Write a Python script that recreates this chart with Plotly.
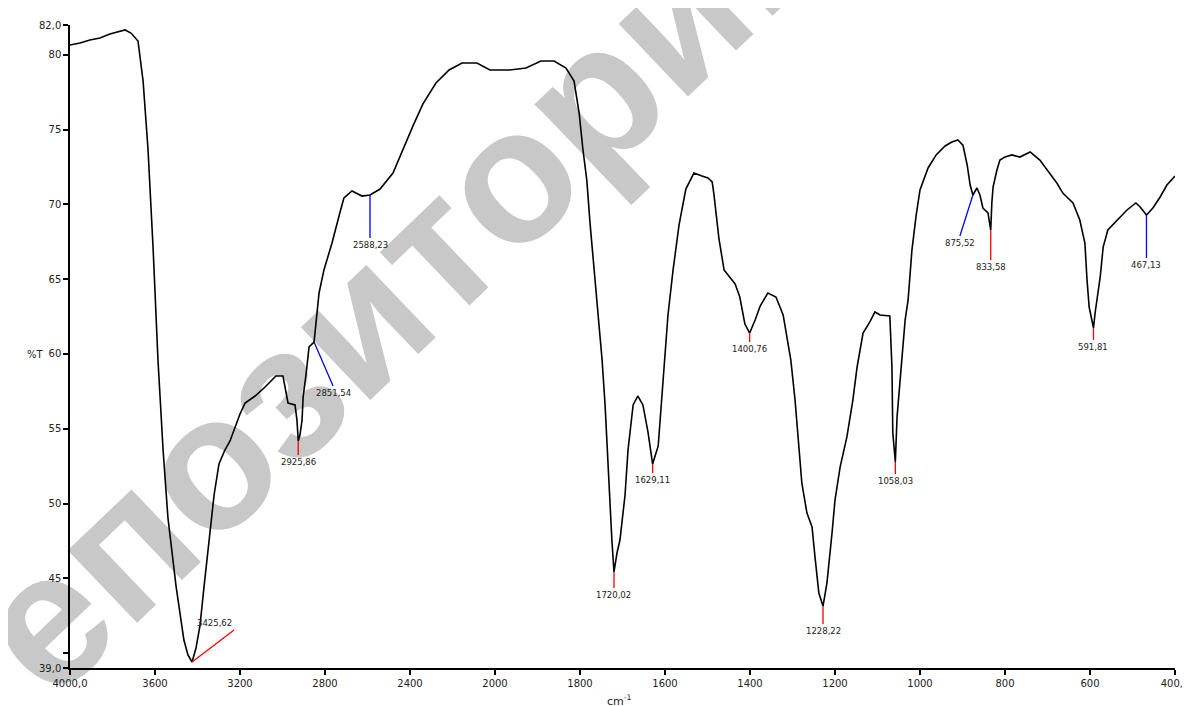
import plotly.graph_objects as go

# ---------------- data ----------------
wavenumber = [
    4000, 3953, 3906, 3859, 3812, 3765, 3741, 3713, 3694, 3680, 3656, 3633, 3609,
    3586, 3562, 3539, 3501, 3464, 3445, 3425.62, 3407, 3388, 3369, 3346, 3322,
    3299, 3271, 3247, 3200, 3176, 3129, 3082, 3031, 2998, 2974, 2941, 2932,
    2925.86, 2918, 2908, 2903, 2889, 2875, 2851.54, 2842, 2828, 2805, 2767, 2734,
    2711, 2673, 2649, 2626, 2588.23, 2541, 2480, 2433, 2386, 2339, 2278, 2216,
    2155, 2085, 2024, 2000,
    1965, 1927, 1892, 1861, 1833, 1814, 1802, 1793, 1784, 1776, 1767, 1758, 1748,
    1741, 1736, 1729, 1725, 1720.02, 1713, 1706, 1699, 1694, 1687, 1682, 1675,
    1664, 1652, 1640, 1629.11, 1616, 1605, 1593, 1581, 1567, 1551, 1532, 1513,
    1499, 1489, 1485, 1473, 1461, 1435, 1424, 1412, 1400.76, 1388, 1376, 1358,
    1339, 1322, 1304, 1294, 1287, 1278, 1266, 1254, 1247, 1238, 1228.22, 1219,
    1207, 1200, 1188, 1172, 1158, 1148, 1134, 1118, 1106, 1094, 1071, 1066, 1064,
    1058.03, 1054, 1047, 1042, 1035, 1028, 1019, 1009, 1000, 981, 962, 941, 925,
    911, 899, 889, 882, 875.52, 866, 859, 852, 840, 833.58, 831, 828, 819, 812,
    800, 784, 765, 741, 718, 701, 678, 664, 640, 624, 612, 607, 602, 591.81, 588,
    576, 569, 558, 536, 513, 492, 482, 467.13, 452, 435, 419, 400,
]
transmittance = [
    80.66, 80.80, 81.00, 81.13, 81.40, 81.60, 81.67, 81.46, 81.13, 80.93, 78.25,
    73.71, 67.09, 59.60, 53.58, 49.03, 44.48, 40.87, 39.87, 39.40, 40.34, 41.87,
    44.48, 47.49, 50.57, 52.64, 53.58, 54.18, 55.99, 56.72, 57.19, 57.79, 58.53,
    58.53, 56.72, 56.59, 55.58, 54.18, 54.58, 55.58, 57.12, 58.66, 60.47, 60.80,
    62.00, 64.08, 65.62, 67.42, 69.23, 70.43, 70.90, 70.70, 70.56, 70.63, 71.03,
    72.10, 73.71, 75.25, 76.72, 78.12, 78.99, 79.46, 79.46, 78.99, 78.99,
    78.99, 79.12, 79.59, 79.59, 79.12, 78.25, 76.11, 73.64, 71.63, 68.62, 65.62,
    62.61, 59.60, 56.59, 53.58, 50.23, 47.56, 45.42, 46.69, 47.56, 49.57, 50.57,
    53.58, 55.05, 56.59, 57.19, 56.59, 54.78, 52.64, 53.85, 58.06, 62.61, 65.62,
    68.62, 71.03, 72.10, 71.90, 71.77, 71.50, 70.70, 67.69, 65.62, 64.68, 63.81,
    62.00, 61.40, 62.27, 63.21, 64.08, 63.81, 62.61, 59.60, 56.92, 54.25, 51.37,
    49.36, 48.43, 46.42, 44.01, 43.14, 44.68, 48.03, 50.23, 52.44, 54.45, 56.92,
    59.13, 61.40, 62.14, 62.81, 62.61, 62.54, 59.13, 54.71, 52.78, 55.78, 58.26,
    59.60, 62.27, 63.61, 66.95, 69.29, 70.97, 72.44, 73.31, 73.91, 74.18, 74.31,
    73.97, 72.64, 71.30, 70.63, 71.10, 70.63, 69.76, 69.43, 68.29, 70.10, 71.17,
    72.30, 72.97, 73.17, 73.31, 73.17, 73.51, 72.97, 72.30, 71.43, 70.76, 70.10,
    68.96, 67.42, 64.95, 63.14, 61.74, 62.74, 65.15, 67.15, 68.29, 68.96, 69.63,
    70.10, 69.83, 69.29, 69.76, 70.50, 71.30, 71.90,
]

peak_wn = [3425.62, 2925.86, 2851.54, 2588.23, 1720.02, 1629.11, 1400.76,
           1228.22, 1058.03, 875.52, 833.58, 591.81, 467.13]
peak_t = [39.40, 54.18, 60.80, 70.63, 45.42, 52.64, 61.40,
          43.14, 52.78, 70.63, 68.29, 61.74, 69.29]
peak_kind = ["band", "band", "shoulder", "shoulder", "band", "band", "band",
             "band", "band", "shoulder", "band", "band", "shoulder"]

x_ticks_high = [4000, 3600, 3200, 2800, 2400, 2000]
x_ticks_low = [1800, 1600, 1400, 1200, 1000, 800, 600, 400]
y_ticks = [39, 40, 45, 50, 55, 60, 65, 70, 75, 80, 82]

# ---------------- styling ----------------
kind_color = {"band": "#ff0000", "shoulder": "#0000ff"}
# label offsets in pixels (ax, ay, xanchor, yanchor)
label_offsets = [
    (42, -32, "right", "bottom"),
    (0, 14, "center", "top"),
    (19, 44, "center", "top"),
    (0, 43, "center", "top"),
    (0, 16, "center", "top"),
    (0, 9, "center", "top"),
    (0, 9, "center", "top"),
    (0, 18, "center", "top"),
    (0, 12, "center", "top"),
    (-13, 41, "center", "top"),
    (0, 30, "center", "top"),
    (0, 12, "center", "top"),
    (0, 43, "center", "top"),
]
FONT = "DejaVu Sans"
TXT = "#222222"


def fmt(v):
    return f"{v:.2f}".replace(".", ",")


def fmt_tick(v, ends):
    return f"{v:.1f}".replace(".", ",") if v in ends else str(v)


hi = [(w, t) for w, t in zip(wavenumber, transmittance) if w >= 2000]
lo = [(w, t) for w, t in zip(wavenumber, transmittance) if w <= 2000]

fig = go.Figure()
fig.add_trace(go.Scatter(x=[p[0] for p in hi], y=[p[1] for p in hi], mode="lines",
                         line=dict(color="black", width=1.6), xaxis="x", yaxis="y",
                         showlegend=False, hoverinfo="skip"))
fig.add_trace(go.Scatter(x=[p[0] for p in lo], y=[p[1] for p in lo], mode="lines",
                         line=dict(color="black", width=1.6), xaxis="x2", yaxis="y",
                         showlegend=False, hoverinfo="skip"))

split = 425 / 1105
axis_common = dict(showline=True, linecolor="black", linewidth=1.5, ticks="outside",
                   ticklen=5, tickwidth=1.5, tickcolor="black", showgrid=False,
                   zeroline=False, automargin=False,
                   tickfont=dict(family=FONT, size=10, color=TXT))

fig.update_layout(
    width=1190, height=706,
    margin=dict(l=62, r=23, t=17, b=46, autoexpand=False),
    paper_bgcolor="white", plot_bgcolor="white",
    xaxis=dict(domain=[0, split], range=[4000, 2000], anchor="y",
               tickmode="array", tickvals=x_ticks_high,
               ticktext=[fmt_tick(v, (4000,)) for v in x_ticks_high], **axis_common),
    xaxis2=dict(domain=[split, 1], range=[2000, 400], anchor="y",
                tickmode="array", tickvals=x_ticks_low,
                ticktext=[fmt_tick(v, (400,)) for v in x_ticks_low], **axis_common),
    yaxis=dict(range=[39, 82], anchor="x", tickmode="array", tickvals=y_ticks,
               ticktext=[" " if v == 40 else fmt_tick(v, (39, 82)) for v in y_ticks],
               **axis_common),
)

annotations = []
for w, t, kind, (ax, ay, xa, ya) in zip(peak_wn, peak_t, peak_kind, label_offsets):
    xr = "x" if w >= 2000 else "x2"
    annotations.append(dict(
        x=w, y=t, xref=xr, yref="y", text=fmt(w), showarrow=True, arrowhead=0,
        arrowwidth=1.3, arrowcolor=kind_color[kind], ax=ax, ay=ay,
        xanchor=xa, yanchor=ya, standoff=0, borderpad=1,
        font=dict(family=FONT, size=8.5, color=TXT)))

annotations.append(dict(x=-0.0407, y=0.487, xref="paper", yref="paper", text="%T",
                        showarrow=False, font=dict(family=FONT, size=10, color=TXT)))
annotations.append(dict(x=0.4977, y=-0.05, xref="paper", yref="paper",
                        text="cm<sup>-1</sup>", showarrow=False, yanchor="middle",
                        font=dict(family=FONT, size=11, color=TXT)))
fig.update_layout(annotations=annotations)

# watermark drawn underneath the spectrum
fig.add_shape(type="line", xref="paper", yref="paper",
              x0=0.0543, y0=0.2411, x1=0.4471, y1=0.8849,
              line=dict(width=0, color="rgba(0,0,0,0)"), layer="below",
              label=dict(text="<b>Репозиторий</b>", textangle=-43.7,
                         textposition="middle", yanchor="middle", padding=0,
                         font=dict(family="Liberation Sans", size=190, color="#c8c8c8")))

fig.write_html("out.html")
